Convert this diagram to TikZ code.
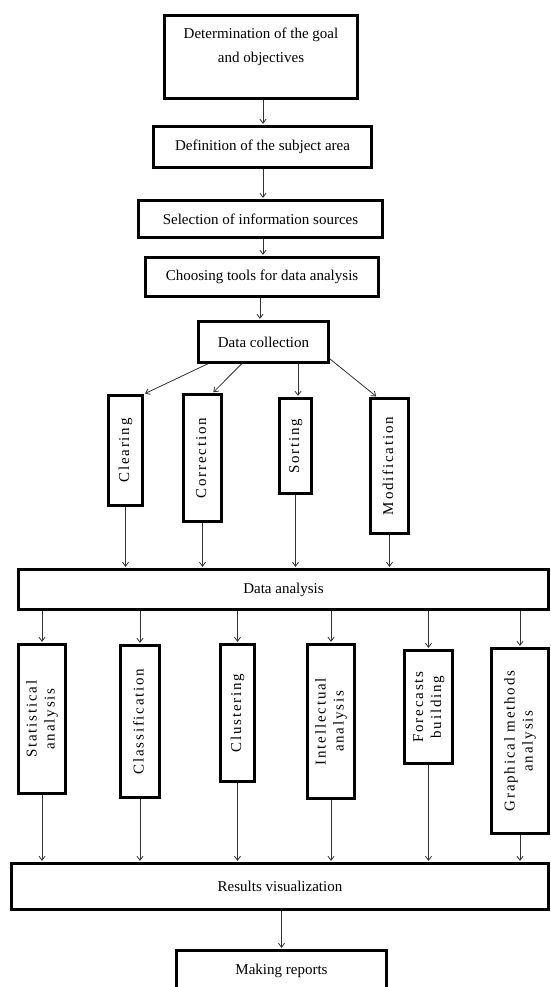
\documentclass[tikz,border=0pt]{standalone}
\usepackage{fontspec}
\usepackage{graphicx}
\setmainfont{Liberation Serif}
\newfontfamily\spacedfont[LetterSpace=12]{Liberation Serif}
\usetikzlibrary{arrows.meta,calc}
\tikzset{
  box/.style={draw=black, line width=2.8pt, inner sep=0pt, align=center, fill=white,
              font=\fontsize{15}{18}\selectfont},
  arr/.style={draw=black!80, line width=0.8pt, shorten >=1.2pt,
              -{Straight Barb[length=4pt,width=6pt]}},
}
\newcommand\vlbl[1]{\rotatebox{90}{\spacedfont\fontsize{15}{18}\selectfont\begin{tabular}{@{}c@{}}#1\end{tabular}}}
\begin{document}
\begin{tikzpicture}[x=1pt,y=-1pt]
\clip (0,0) rectangle (551,987);
\fill[white] (0,0) rectangle (551,987);
% top chain
\node[box, minimum width=193pt, minimum height=83pt] (b1) at (261,57)
  {Determination of the goal\\[6pt]and objectives\\[6pt]\mbox{}};
\node[box, minimum width=218pt, minimum height=41pt] (b2) at (262.5,147) {Definition of the subject area};
\node[box, minimum width=244pt, minimum height=37pt] (b3) at (260.5,219) {Selection of information sources};
\node[box, minimum width=233pt, minimum height=39pt] (b4) at (262,277) {Choosing tools for data analysis};
\node[box, minimum width=130pt, minimum height=41pt] (dc) at (263.5,342) {Data collection};
% preprocessing
\node[box, minimum width=34pt, minimum height=110pt] (cl) at (125.5,450.5) {\vlbl{Clearing}};
\node[box, minimum width=38pt, minimum height=127pt] (co) at (202.5,458) {\vlbl{Correction}};
\node[box, minimum width=32pt, minimum height=95pt] (so) at (295.5,446) {\vlbl{Sorting}};
\node[box, minimum width=38pt, minimum height=135pt] (mo) at (389.5,466) {\vlbl{Modification}};
% analysis
\node[box, minimum width=530pt, minimum height=40pt] (da) at (283.5,589.5) {Data analysis};
\node[box, minimum width=47pt, minimum height=149pt] (st) at (42,719) {\vlbl{Statistical\\analysis}};
\node[box, minimum width=39pt, minimum height=152pt] (cf) at (140,721.5) {\vlbl{Classification}};
\node[box, minimum width=34pt, minimum height=137pt] (cu) at (237.5,713) {\vlbl{Clustering}};
\node[box, minimum width=47pt, minimum height=154pt] (ia) at (331,721.5) {\vlbl{Intellectual\\analysis}};
\node[box, minimum width=48pt, minimum height=113pt] (fb) at (428.5,707) {\vlbl{Forecasts\\building}};
\node[box, minimum width=57pt, minimum height=185pt] (gm) at (520,741) {\vlbl{Graphical methods\\analysis}};
\node[box, minimum width=537pt, minimum height=46pt] (rv) at (280,886.5) {Results visualization};
\node[box, minimum width=210pt, minimum height=41pt] (mr) at (281.5,971) {Making reports};
% connectors
\draw[arr] ($(b1.south)+(2,0)$) -- ($(b1.south |- b2.north)+(2,0)$);
\draw[arr] ($(b2.south)+(0.5,0)$) -- ($(b2.south |- b3.north)+(0.5,0)$);
\draw[arr] ($(b3.south)+(2.5,0)$) -- ($(b3.south |- b4.north)+(2.5,0)$);
\draw[arr] ($(b4.south)+(-2,0)$) -- ($(b4.south |- dc.north)+(-2,0)$);
\draw[arr] ($(dc.south west)+(10.5,0)$) -- (cl.north east);
\draw[arr] ($(dc.south west)+(44.5,0)$) -- ($(co.north)+(10,0)$);
\draw[arr] ($(so.north |- dc.south)+(2.5,0)$) -- ($(so.north)+(2.5,0)$);
\draw[arr] ($(dc.south east)+(0,-5)$) -- ($(mo.north west)+(8,0)$);
\foreach \n in {cl,co,so,mo}
  \draw[arr] (\n.south) -- (\n.south |- da.north);
\foreach \n in {st,cf,cu,ia,fb,gm}{
  \draw[arr] (\n.north |- da.south) -- (\n.north);
  \draw[arr] (\n.south) -- (\n.south |- rv.north);
}
\draw[arr] (mr.north |- rv.south) -- (mr.north);
\end{tikzpicture}
\end{document}
